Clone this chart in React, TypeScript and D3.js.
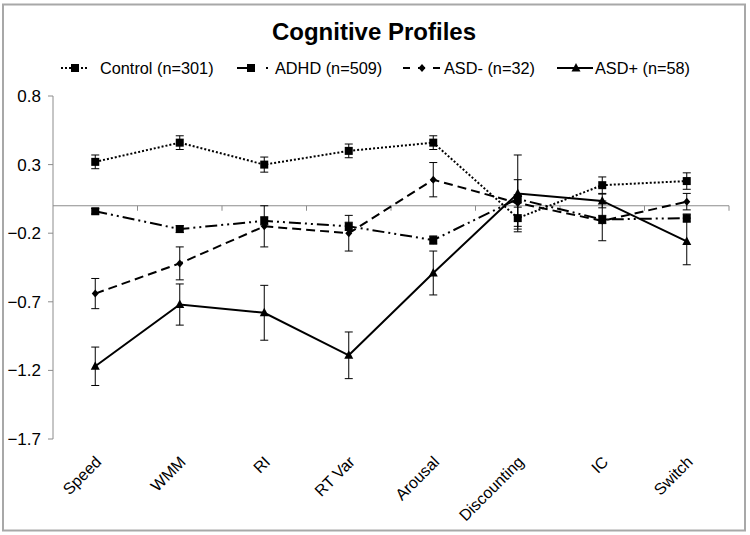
import React from "react";
import * as d3 from "d3";

const categories = ["Speed", "WMM", "RI", "RT Var", "Arousal", "Discounting", "IC", "Switch"];
const yTicks = [0.8, 0.3, -0.2, -0.7, -1.2, -1.7];

const controlVals = [0.32, 0.46, 0.30, 0.40, 0.46, -0.09, 0.15, 0.18];
const controlErr = [0.05, 0.05, 0.055, 0.05, 0.05, 0.08, 0.06, 0.06];
const adhdVals = [-0.04, -0.17, -0.11, -0.15, -0.25, 0.05, -0.10, -0.09];
const adhdErr = [0.02, 0.025, 0.03, 0.03, 0.03, 0.03, 0.03, 0.03];
const asdMinusVals = [-0.64, -0.42, -0.15, -0.20, 0.19, 0.02, -0.11, 0.03];
const asdMinusErr = [0.11, 0.12, 0.15, 0.13, 0.125, 0.17, 0.145, 0.06];
const asdPlusVals = [-1.17, -0.72, -0.78, -1.09, -0.49, 0.09, 0.035, -0.26];
const asdPlusErr = [0.14, 0.15, 0.2, 0.17, 0.16, 0.28, 0.05, 0.17];

const seriesNames = ["Control (n=301)", "ADHD (n=509)", "ASD- (n=32)", "ASD+ (n=58)"];

type Series = { name: string; vals: number[]; err: number[]; dash: string; marker: string };

const series: Series[] = [
  { name: seriesNames[0], vals: controlVals, err: controlErr, dash: "2,2", marker: "square" },
  { name: seriesNames[1], vals: adhdVals, err: adhdErr, dash: "12,4,2,4,2,4", marker: "square" },
  { name: seriesNames[2], vals: asdMinusVals, err: asdMinusErr, dash: "9,5", marker: "diamond" },
  { name: seriesNames[3], vals: asdPlusVals, err: asdPlusErr, dash: "", marker: "triangle" },
];

// legend layout
const legendLine = [
  { x1: 61, x2: 88, m: 75, dash: "2,2", tx: 100 },
  { x1: 237, x2: 269, m: 251, dash: "16,13,2,10", tx: 275 },
  { x1: 403, x2: 441, m: 422, dash: "7,8", tx: 444 },
  { x1: 557, x2: 593, m: 576, dash: "", tx: 595 },
];

const W = 750, H = 535;
const x0 = 53, x1 = 729;
const x = d3.scaleBand<string>().domain(categories).range([x0, x1]);
const y = d3.scaleLinear().domain([-1.7, 0.8]).range([439, 96]);

function Marker({ type, cx, cy }: { type: string; cx: number; cy: number }) {
  if (type === "square") return <rect x={cx - 4} y={cy - 4} width={8} height={8} fill="#000" />;
  if (type === "diamond") return <path d={`M${cx},${cy - 4}L${cx + 3.5},${cy}L${cx},${cy + 4}L${cx - 3.5},${cy}Z`} fill="#000" />;
  return <path d={`M${cx},${cy - 5}L${cx + 4.5},${cy + 3.5}L${cx - 4.5},${cy + 3.5}Z`} fill="#000" />;
}

export default function App() {
  const font = "'Liberation Sans', Arial, sans-serif";
  const cx = (c: string) => (x(c) as number) + x.bandwidth() / 2;
  const line = d3.line<number>().x((_, i) => cx(categories[i])).y((v) => y(v));
  return (
    <svg width={W} height={H} style={{ position: "absolute", left: 0, top: 0, background: "#fff" }} fontFamily={font}>
      <rect x={3} y={4.5} width={742} height={526} fill="#fff" stroke="#a8a8a8" strokeWidth={2} />
      <text x={374} y={39.5} textAnchor="middle" fontSize={24} fontWeight="bold">Cognitive Profiles</text>
      {/* legend */}
      {series.map((s, i) => (
        <g key={s.name}>
          <line x1={legendLine[i].x1} x2={legendLine[i].x2} y1={68} y2={68} stroke="#000" strokeWidth={2}
            strokeDasharray={legendLine[i].dash} />
          <Marker type={s.marker} cx={legendLine[i].m} cy={68} />
          <text x={legendLine[i].tx} y={73.5} fontSize={16.3}>{s.name}</text>
        </g>
      ))}
      {/* y axis */}
      <line x1={x0} x2={x0} y1={y(0.8)} y2={y(-1.7)} stroke="#8c8c8c" />
      {yTicks.map((t) => (
        <g key={t}>
          <line x1={x0 - 5} x2={x0} y1={y(t)} y2={y(t)} stroke="#8c8c8c" />
          <text x={41} y={y(t) + 6} textAnchor="end" fontSize={17}>{d3.format(".1f")(t)}</text>
        </g>
      ))}
      {/* zero axis */}
      <line x1={x0} x2={x1} y1={y(0)} y2={y(0)} stroke="#8c8c8c" />
      {categories.map((c) => (
        <line key={c} x1={(x(c) as number) + x.bandwidth()} x2={(x(c) as number) + x.bandwidth()} y1={y(0)} y2={y(0) + 5} stroke="#8c8c8c" />
      ))}
      {/* category labels */}
      {categories.map((c) => (
        <text key={c} transform={`translate(${cx(c) + 7},${463}) rotate(-45)`} textAnchor="end" fontSize={16}>{c}</text>
      ))}
      {/* series */}
      {series.map((s) => (
        <g key={s.name}>
          {s.vals.map((v, i) => (
            <g key={i} stroke="#000" strokeWidth={1}>
              <line x1={cx(categories[i])} x2={cx(categories[i])} y1={y(v + s.err[i])} y2={y(v - s.err[i])} />
              <line x1={cx(categories[i]) - 4} x2={cx(categories[i]) + 4} y1={y(v + s.err[i])} y2={y(v + s.err[i])} />
              <line x1={cx(categories[i]) - 4} x2={cx(categories[i]) + 4} y1={y(v - s.err[i])} y2={y(v - s.err[i])} />
            </g>
          ))}
          <path d={line(s.vals) as string} fill="none" stroke="#000" strokeWidth={2} strokeDasharray={s.dash} />
          {s.vals.map((v, i) => (
            <Marker key={i} type={s.marker} cx={cx(categories[i])} cy={y(v)} />
          ))}
        </g>
      ))}
    </svg>
  );
}
